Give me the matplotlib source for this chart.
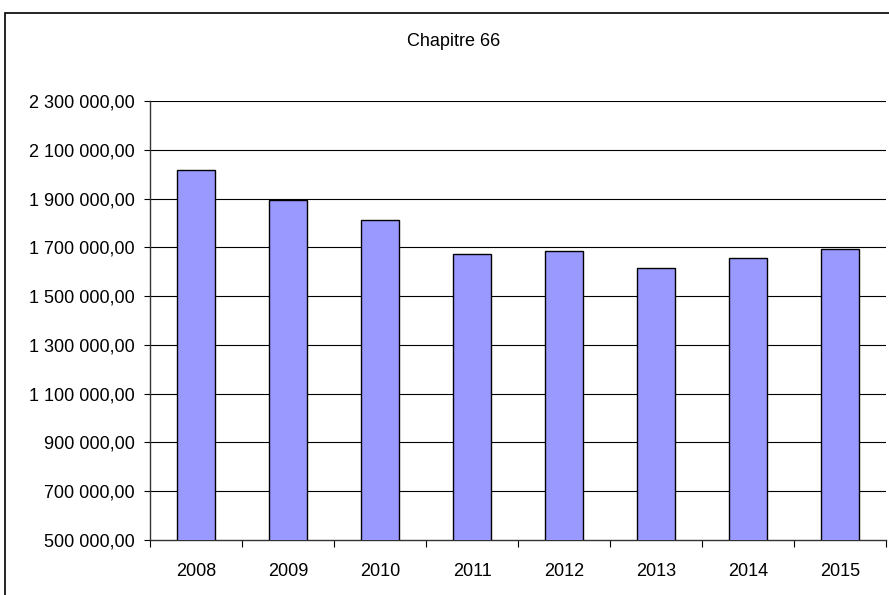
import matplotlib
matplotlib.use("Agg")
import matplotlib.pyplot as plt
from matplotlib.patches import Rectangle
import numpy as np

years = ["2008", "2009", "2010", "2011", "2012", "2013", "2014", "2015"]
values = [2016000, 1896000, 1812000, 1672000, 1686000, 1614000, 1655000, 1692000]
yticks = [500000, 700000, 900000, 1100000, 1300000, 1500000, 1700000, 1900000, 2100000, 2300000]

def fmt(v):
    s = f"{int(v):,}".replace(",", " ")
    return s + ",00"

plt.rcParams['font.family'] = ['Liberation Sans', 'DejaVu Sans']
fig = plt.figure(figsize=(8.89, 5.95), dpi=100)
fig.patches.append(Rectangle((5/889, -0.1), 1.2, 1 - 13/595 + 0.1, transform=fig.transFigure,
                             fill=False, edgecolor='black', linewidth=1.2))
ax = fig.add_axes([150/889, 1 - 540/595, 736/889, (540 - 101)/595])

x = np.arange(len(years))
ax.bar(x, values, width=0.42, color='#9999FF', edgecolor='black', linewidth=1.0, zorder=3)
ax.set_xlim(-0.5, len(years) - 0.5)
ax.set_ylim(500000, 2300000)
ax.set_yticks(yticks)
ax.set_yticklabels([fmt(v) for v in yticks], fontsize=13)
for v in yticks[1:]:
    ax.axhline(v, color='black', linewidth=0.8, zorder=1)

ax.set_xticks(x)
ax.set_xticklabels(years, fontsize=13)
ax.tick_params(axis='x', length=0, pad=16.5)
ax.set_xticks(np.arange(-0.5, len(years), 1.0), minor=True)
ax.tick_params(axis='x', which='minor', length=5, width=0.8, direction='out')
ax.tick_params(axis='y', length=4, width=0.8, direction='out', pad=7)

for s in ['top', 'right']:
    ax.spines[s].set_visible(False)
for s in ['left', 'bottom']:
    ax.spines[s].set_color('#333333')
    ax.spines[s].set_linewidth(1.0)

fig.text(454/889, 1 - 41.5/595, "Chapitre 66", ha='center', va='center', fontsize=13)

fig.savefig("out.png", dpi=100)
